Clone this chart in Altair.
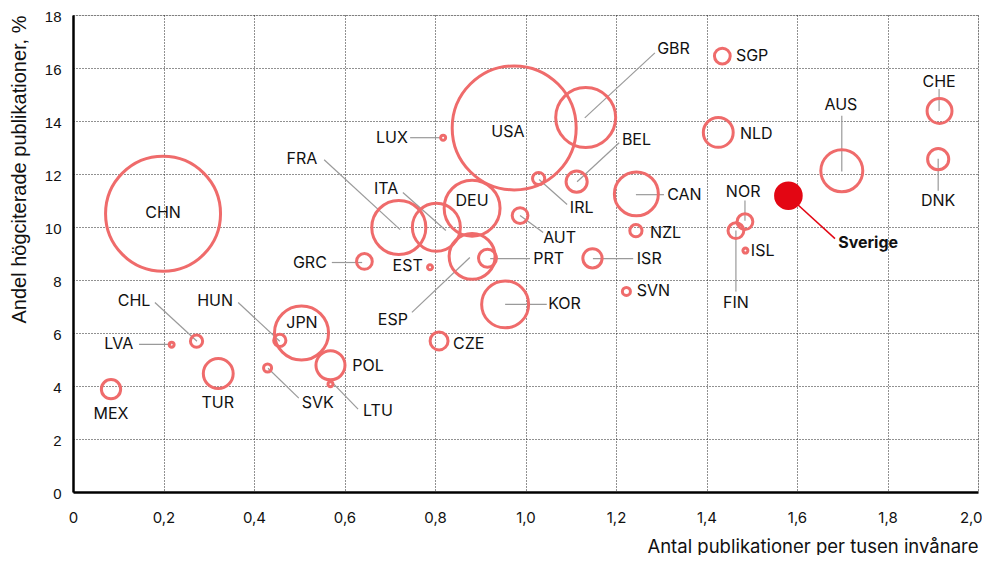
import altair as alt
import pandas as pd

# ---- data ----
countries = ["CHN", "USA", "GBR", "DEU", "FRA", "JPN", "ITA", "ESP", "KOR", "CAN",
             "AUS", "NLD", "TUR", "POL", "CHE", "DNK", "BEL", "ISR", "MEX", "CZE",
             "PRT", "GRC", "AUT", "SGP", "NOR", "FIN", "IRL", "NZL", "CHL", "HUN",
             "SVK", "SVN", "LUX", "EST", "ISL", "LVA", "LTU"]
pubs_per_1000 = [0.199, 0.975, 1.133, 0.882, 0.720, 0.505, 0.803, 0.882, 0.955, 1.245,
                 1.699, 1.426, 0.321, 0.569, 1.915, 1.912, 1.113, 1.148, 0.084, 0.809,
                 0.916, 0.644, 0.988, 1.435, 1.485, 1.465, 1.029, 1.244, 0.273, 0.457,
                 0.430, 1.223, 0.818, 0.789, 1.486, 0.218, 0.569]
share_highly_cited = [10.50, 13.74, 14.13, 10.71, 9.98, 6.00, 9.99, 8.89, 7.08, 11.25,
                      12.12, 13.57, 4.47, 4.78, 14.38, 12.56, 11.71, 8.82, 3.88, 5.70,
                      8.82, 8.70, 10.43, 16.45, 10.20, 9.86, 11.83, 9.86, 5.69, 5.72,
                      4.68, 7.57, 13.37, 8.48, 9.11, 5.56, 4.07]
n_publications = [533, 620, 145, 126, 118, 118, 93, 85, 89, 78,
                  71, 36, 36, 34, 25, 18, 18, 15, 15, 13,
                  13, 10, 10, 10, 10, 10, 6, 6, 6, 6,
                  2.6, 2.6, 1, 1, 1, 1, 1]

sweden_name = "Sverige"
sweden_x = 1.581
sweden_y = 11.18
sweden_pubs = 33

# label anchor positions (data units) and alignment
label_names = ["CHN", "USA", "GBR", "LUX", "BEL", "IRL", "CAN", "DEU", "ITA", "FRA",
               "AUT", "NZL", "ISR", "PRT", "EST", "GRC", "ESP", "KOR", "SVN", "CZE",
               "SGP", "NLD", "AUS", "CHE", "DNK", "NOR", "FIN", "ISL", "CHL", "HUN",
               "LVA", "JPN", "MEX", "TUR", "POL", "SVK", "LTU"]
label_x = [0.199, 0.961, 1.291, 0.740, 1.213, 1.098, 1.313, 0.882, 0.692, 0.506,
           1.039, 1.275, 1.246, 1.017, 0.773, 0.561, 0.707, 1.050, 1.246, 0.840,
           1.465, 1.474, 1.697, 1.914, 1.912, 1.481, 1.465, 1.498, 0.135, 0.314,
           0.133, 0.506, 0.084, 0.320, 0.617, 0.541, 0.674]
label_y = [10.51, 13.59, 16.72, 13.37, 13.29, 10.73, 11.22, 11.00, 11.45, 12.58,
           9.60, 9.79, 8.81, 8.81, 8.51, 8.66, 6.48, 7.08, 7.57, 5.57,
           16.46, 13.52, 14.61, 15.48, 11.00, 11.33, 7.15, 9.11, 7.19, 7.19,
           5.57, 6.36, 2.94, 3.35, 4.74, 3.35, 3.05]
label_align = ["center", "center", "left", "right", "left", "left", "left", "center", "center", "center",
               "left", "left", "left", "left", "right", "right", "center", "left", "left", "left",
               "left", "left", "center", "center", "center", "center", "center", "left", "center", "center",
               "right", "center", "center", "center", "left", "center", "center"]
sweden_label_x = 1.691
sweden_label_y = 9.38

# leader lines (data units)
leader_names = ["GBR", "LUX", "BEL", "IRL", "CAN", "ITA", "FRA", "AUT", "ISR", "PRT",
                "GRC", "ESP", "KOR", "AUS", "CHE", "DNK", "NOR", "FIN", "CHL", "HUN",
                "LVA", "SVK", "LTU"]
leader_x1 = [1.131, 0.745, 1.114, 1.030, 1.244, 0.729, 0.555, 0.988, 1.149, 0.922,
             0.572, 0.749, 0.955, 1.699, 1.914, 1.912, 1.485, 1.465, 0.181, 0.365,
             0.146, 0.431, 0.564]
leader_y1 = [14.12, 13.37, 11.71, 11.79, 11.22, 11.30, 12.54, 10.43, 8.81, 8.81,
             8.66, 6.78, 7.08, 14.20, 15.21, 12.58, 11.00, 9.87, 7.15, 7.15,
             5.57, 4.67, 4.29]
leader_x2 = [1.286, 0.811, 1.207, 1.092, 1.306, 0.824, 0.723, 1.039, 1.238, 1.010,
             0.639, 0.877, 1.047, 1.699, 1.914, 1.912, 1.485, 1.465, 0.274, 0.457,
             0.217, 0.499, 0.630]
leader_y2 = [16.57, 13.37, 13.18, 10.85, 11.22, 9.87, 9.90, 9.79, 8.81, 8.81,
             8.66, 8.85, 7.08, 12.09, 14.38, 11.37, 10.24, 7.57, 5.69, 5.69,
             5.57, 3.54, 3.13]
sweden_leader = [1.580, 11.18, 1.684, 9.56]

x_ticks = [0, 0.2, 0.4, 0.6, 0.8, 1.0, 1.2, 1.4, 1.6, 1.8, 2.0]
y_ticks = [0, 2, 4, 6, 8, 10, 12, 14, 16, 18]

# ---- tables ----
bubbles = pd.DataFrame({"land": countries, "x": pubs_per_1000, "y": share_highly_cited,
                        "pubs": n_publications})
sweden = pd.DataFrame({"land": [sweden_name], "x": [sweden_x], "y": [sweden_y],
                       "pubs": [sweden_pubs], "lx": [sweden_label_x], "ly": [sweden_label_y]})
labels = pd.DataFrame({"land": label_names, "lx": label_x, "ly": label_y, "align": label_align})
leaders = pd.DataFrame({"land": leader_names, "x1": leader_x1, "y1": leader_y1,
                        "x2": leader_x2, "y2": leader_y2})
sw_leader = pd.DataFrame({"x1": [sweden_leader[0]], "y1": [sweden_leader[1]],
                          "x2": [sweden_leader[2]], "y2": [sweden_leader[3]]})

PINK = "#ef6b6b"
RED = "#e30613"
LABEL_FONT = "Inter"

xscale = alt.Scale(domain=[0, 2], nice=False)
yscale = alt.Scale(domain=[0, 18], nice=False)
sscale = alt.Scale(domain=[0, 620], range=[0, 15376], zero=True)

x_axis = alt.Axis(
    values=x_ticks, title="Antal publikationer per tusen invånare",
    labelExpr="datum.value == 0 ? '0' : replace(format(datum.value, '.1f'), '.', ',')",
    labelAlign={"condition": {"test": "datum.value >= 2", "value": "right"}, "value": "center"},
    labelOffset={"condition": {"test": "datum.value >= 2", "value": 4}, "value": 0},
    grid=True, gridDash=[1, 2], gridColor="#222", gridWidth=1,
    domainColor="#000", domainWidth=2.5, ticks=False, labelPadding=18,
    labelFont=LABEL_FONT, labelFontSize=15, labelColor="#111",
    titleFont=LABEL_FONT, titleFontSize=18.5, titleFontWeight="normal", titleColor="#111",
    titleAnchor="end", titleAlign="right", titleBaseline="alphabetic",
    titleX=905, titleY=60,
)
y_axis = alt.Axis(
    values=y_ticks, title="Andel högciterade publikationer, %", format="d",
    grid=True, gridDash=[1, 2], gridColor="#222", gridWidth=1,
    domainColor="#000", domainWidth=2.5, ticks=False, labelPadding=12, labelOffset=1,
    labelFont="Liberation Sans", labelFontSize=15, labelColor="#111",
    titleFont="Liberation Sans", titleFontSize=20, titleFontWeight="normal", titleColor="#111",
    titleAngle=-90, titleAlign="right", titleBaseline="alphabetic", titleAnchor="end",
    titleX=-48, titleY=0,
)

lines = alt.Chart(leaders).mark_rule(color="#9a9a9a", strokeWidth=1.2).encode(
    x=alt.X("x1:Q", scale=xscale, axis=x_axis),
    y=alt.Y("y1:Q", scale=yscale, axis=y_axis),
    x2="x2:Q", y2="y2:Q",
)
sw_line = alt.Chart(sw_leader).mark_rule(color=RED, strokeWidth=1.5).encode(
    x="x1:Q", y="y1:Q", x2="x2:Q", y2="y2:Q",
)
circles = alt.Chart(bubbles).mark_point(shape="circle", filled=False, stroke=PINK,
                                        strokeWidth=3, opacity=1).encode(
    x="x:Q", y="y:Q",
    size=alt.Size("pubs:Q", scale=sscale, legend=None),
)
sw_circle = alt.Chart(sweden).mark_point(shape="circle", filled=True, fill=RED,
                                         strokeWidth=0, opacity=1).encode(
    x="x:Q", y="y:Q",
    size=alt.Size("pubs:Q", scale=sscale, legend=None),
)

def text_layer(align):
    return alt.Chart(labels).transform_filter(
        alt.datum.align == align
    ).mark_text(align=align, baseline="middle", font=LABEL_FONT, fontSize=16,
                color="#111").encode(x="lx:Q", y="ly:Q", text="land:N")

sw_text = alt.Chart(sweden).mark_text(align="left", baseline="middle", font=LABEL_FONT,
                                      fontSize=16, fontWeight="bold", color="#111").encode(
    x="lx:Q", y="ly:Q", text="land:N")

chart = alt.layer(
    lines, sw_line, circles, sw_circle,
    text_layer("left"), text_layer("center"), text_layer("right"), sw_text,
).properties(
    width=905, height=477,
    autosize=alt.AutoSizeParams(type="none"),
    padding={"left": 65, "top": 7, "right": 4, "bottom": 63},
).configure_view(stroke=None).configure(background="white")

chart.save("out.html", embed_options={"renderer": "svg", "actions": False})
